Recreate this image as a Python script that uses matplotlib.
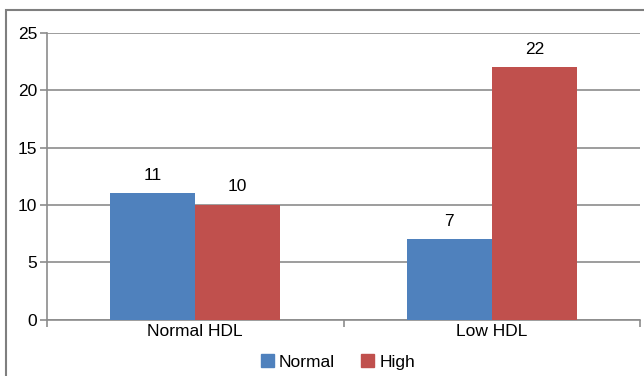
import numpy as np
import matplotlib.pyplot as plt
from matplotlib.patches import Rectangle

plt.rcParams['font.family'] = ['Liberation Sans', 'DejaVu Sans']

categories = ['Normal HDL', 'Low HDL']
normal = [11, 7]
high = [10, 22]
series_names = ['Normal', 'High']

c_blue = '#4F81BD'
c_red = '#C0504D'
gcol = '#8C8C8C'
fs = 12.5

fig = plt.figure(figsize=(6.44, 3.76), dpi=100)
ax = fig.add_axes([47/644, 1-319.5/376, (640-47)/644, (319.5-33)/376])

x = np.arange(len(categories))
w = 0.287
b1 = ax.bar(x - w/2, normal, w, color=c_blue, zorder=3)
b2 = ax.bar(x + w/2, high, w, color=c_red, zorder=3)

# value labels above bars
for bars, vals in [(b1, normal), (b2, high)]:
    for r, v in zip(bars, vals):
        ax.annotate(str(v), (r.get_x() + r.get_width()/2, v),
                    xytext=(0, 7.5), textcoords='offset points',
                    ha='center', va='bottom', fontsize=fs, color='black')

ax.set_xlim(-0.5, 1.5)
ax.set_ylim(0, 25)
ax.set_yticks([0, 5, 10, 15, 20, 25])
ax.yaxis.grid(True, color=gcol, linewidth=1.2, zorder=0)
ax.set_axisbelow(True)

# category boundary ticks + centered labels
ax.set_xticks([-0.5, 0.5, 1.5])
ax.set_xticklabels([])
ax.set_xticks(x, minor=True)
ax.set_xticklabels(categories, minor=True, fontsize=fs)
ax.tick_params(axis='x', which='minor', length=0, pad=3)
ax.tick_params(axis='x', which='major', length=5, color=gcol, width=1.2)
ax.tick_params(axis='y', length=5, color=gcol, width=1.2, labelsize=fs, pad=2)

for s in ['top', 'right']:
    ax.spines[s].set_visible(False)
for s in ['left', 'bottom']:
    ax.spines[s].set_color(gcol)
    ax.spines[s].set_linewidth(1.2)

# outer chart frame
fig.patches.append(Rectangle((6/644, -0.1), 1.2, 1 - 10/376 + 0.1,
                             transform=fig.transFigure, fill=False,
                             edgecolor='#7F7F7F', linewidth=1.5))

handles = [Rectangle((0, 0), 1, 1, color=c_blue), Rectangle((0, 0), 1, 1, color=c_red)]
fig.legend(handles, series_names, loc='center', bbox_to_anchor=(338/644, 1-362/376),
           ncol=2, frameon=False, fontsize=fs, handlelength=0.75, handleheight=0.75,
           handletextpad=0.3, columnspacing=1.5)

fig.savefig('out.png', dpi=100)
